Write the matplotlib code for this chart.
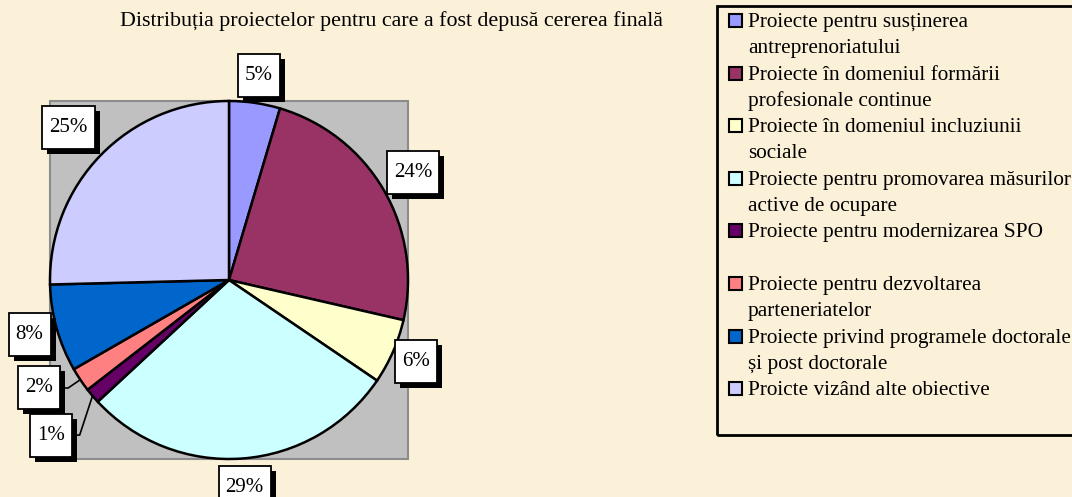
import numpy as np
import matplotlib
matplotlib.use("Agg")
import matplotlib.pyplot as plt
from matplotlib.patches import Rectangle

categories = [
    "Proiecte pentru susținerea\nantreprenoriatului",
    "Proiecte în domeniul formării\nprofesionale continue",
    "Proiecte în domeniul incluziunii\nsociale",
    "Proiecte pentru promovarea măsurilor\nactive de ocupare",
    "Proiecte pentru modernizarea SPO\n",
    "Proiecte pentru dezvoltarea\nparteneriatelor",
    "Proiecte privind programele doctorale\nși post doctorale",
    "Proicte vizând alte obiective",
]
shares = [4.6, 24.0, 5.9, 28.6, 1.4, 2.2, 7.9, 25.4]
colors = ["#9999FF", "#993366", "#FFFFCC", "#CCFFFF", "#660066", "#FF8080", "#0066CC", "#CCCCFF"]
title = "Distribuția proiectelor pentru care a fost depusă cererea finală"

# label placement (radial distance, angle nudge in degrees) and leader lines
label_r = [1.155, 1.19, 1.14, 1.16, 1.32, 1.22, 1.155, 1.235]
label_da = [0, 0, 0, 0, 0.7, -4.2, -0.3, 0.8]
leader = [False, False, False, False, True, True, False, False]

W, H = 1072, 497
BG = "#FBF0D8"
serif = "Liberation Serif"

fig = plt.figure(figsize=(W / 100, H / 100), dpi=100, facecolor=BG)
ax = fig.add_axes([0, 0, 1, 1])
ax.set_facecolor(BG)

# pie centre and radius in pixels
cx, cy, R = 229, 280, 179

ax.add_patch(Rectangle((-1, -1), 2, 2, facecolor="#C0C0C0", edgecolor="#8C8C8C", lw=1.5, zorder=0))

wedges, _ = ax.pie(shares, colors=colors, startangle=90, counterclock=False,
                   wedgeprops=dict(edgecolor="black", linewidth=1.8))
ax.set_aspect("auto")
ax.set_xlim(-cx / R, (W - cx) / R)
ax.set_ylim((cy - H) / R, cy / R)
ax.axis("off")

fig.canvas.draw()
renderer = fig.canvas.get_renderer()

cum = np.cumsum([0] + shares[:-1])
for i, v in enumerate(shares):
    mid = np.deg2rad(90 - (cum[i] + v / 2) * 3.6)
    a = mid + np.deg2rad(label_da[i])
    lx, ly = label_r[i] * np.cos(a), label_r[i] * np.sin(a)
    t = ax.text(lx, ly, "%.0f%%" % v, ha="center", va="center",
                fontsize=15, family=serif, zorder=6)
    ext = t.get_window_extent(renderer)
    bw, bh = (ext.width + 14) / R, 43 / R
    ax.add_patch(Rectangle((lx - bw / 2 + 5 / R, ly - bh / 2 - 5 / R), bw, bh,
                           facecolor="black", edgecolor="none", zorder=4))
    ax.add_patch(Rectangle((lx - bw / 2, ly - bh / 2), bw, bh,
                           facecolor="white", edgecolor="black", lw=1.3, zorder=5))
    if leader[i]:
        ex, ey = np.cos(mid), np.sin(mid)
        bx = lx + bw / 2 + 8 / R
        ax.plot([lx, bx, ex], [ly, ly, ey], color="black", lw=1.2, zorder=3)

def fx(px):
    return px / W

def fy(py):
    return 1 - py / H

fig.text(fx(391), fy(21), title, ha="center", va="center", fontsize=15.8, family=serif)

# legend box
fig.add_artist(Rectangle((fx(717), fy(435)), fx(1080) - fx(717), fy(6) - fy(435),
                         transform=fig.transFigure, facecolor="none",
                         edgecolor="black", lw=2))
line_h = 26.3
for i, (lab, c) in enumerate(zip(categories, colors)):
    base = 27 + 2 * i * line_h
    fig.add_artist(Rectangle((fx(729), fy(base)), fx(742) - fx(729), fy(base - 13) - fy(base),
                             transform=fig.transFigure, facecolor=c,
                             edgecolor="black", lw=1.5))
    for k, line in enumerate(lab.split("\n")):
        fig.text(fx(748), fy(base + k * line_h), line, ha="left", va="baseline",
                 fontsize=15.3, family=serif)

fig.savefig("out.png", dpi=100, facecolor=BG)
